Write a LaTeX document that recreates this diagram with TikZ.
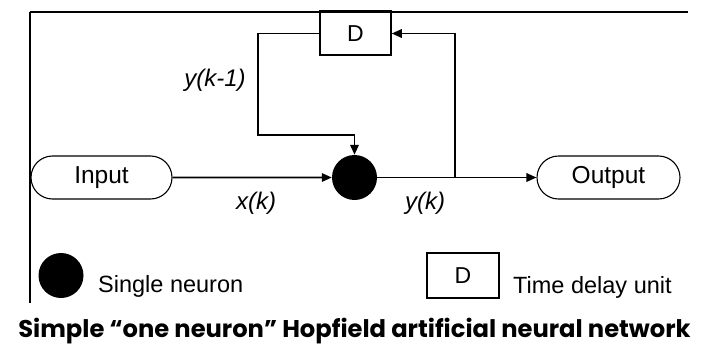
\documentclass[tikz,border=0pt]{standalone}
\usepackage{fontspec}
\setmainfont{Liberation Sans}
\newfontfamily\capfont{Poppins}
\usetikzlibrary{arrows.meta,shapes.misc,shapes.geometric}
\begin{document}
\begin{tikzpicture}[x=1pt,y=-1pt,
  conn/.style={line width=1.7pt,-{Triangle[length=10pt,width=8.5pt]}},
  delaybox/.style={draw,line width=1.5pt,minimum width=71pt,minimum height=43pt,inner sep=0pt,font=\fontsize{23}{25}\selectfont},
  neuron/.style={circle,fill=black,minimum size=45pt,inner sep=0pt},
  pill/.style={draw,rounded rectangle,line width=1.1pt,minimum height=43pt,inner sep=0pt,font=\fontsize{24.5}{26}\selectfont},
  lbl/.style={font=\fontsize{24}{26}\selectfont\itshape,inner sep=0pt},
  legtext/.style={font=\fontsize{23.5}{25}\selectfont,inner sep=0pt,anchor=base west},
  frame/.style={line width=1.2pt}
]
\useasboundingbox (0,0) rectangle (703,345);
% frame
\draw[frame] (30,12) -- (688,12);
\draw[frame] (30,12) -- (30,303);
% nodes
\node[delaybox,fill=white] (D) at (355.5,33.5) {D};
\draw[line width=3pt] (D.north west) -- (D.north east);
\node[neuron] (N) at (354.5,177.5) {};
\node[pill,minimum width=141pt] (in) at (101.5,177.5) {Input};
\node[pill,minimum width=143pt] (out) at (608.5,177.5) {Output};
\coordinate (br) at (455,177.5);
\coordinate (brt) at (455,33.5);
\coordinate (fl) at (258,33.5);
\coordinate (fb) at (258,135);
\coordinate (fc) at (N.north |- fb);
% connectors
\draw[conn] (in) -- (N);
\draw[conn] (N) -- (out);
\draw[conn] (br) -- (brt) -- (D.east);
\draw[conn] (D.west) -- (fl) -- (fb) -- (fc) -- (N.north);
% labels
\node[lbl] (lk1) at (215,80) {y(k-1)};
\node[lbl] (lx) at (256,203) {x(k)};
\node[lbl] (ly) at (425,203) {y(k)};
% legend
\node[neuron,minimum size=45pt] (legN) at (61,275.5) {};
\node[legtext] (legNt) at (98,292) {Single neuron};
\node[delaybox,minimum width=72pt,minimum height=45pt] (legD) at (463,275.5) {D};
\node[legtext] (legDt) at (513,293) {Time delay unit};
% caption
\node[font=\capfont\bfseries\fontsize{24.2}{26}\selectfont,anchor=base,inner sep=0pt] (cap) at (354.5,337.5) {Simple “one neuron” Hopfield artificial neural network};
\end{tikzpicture}
\end{document}
